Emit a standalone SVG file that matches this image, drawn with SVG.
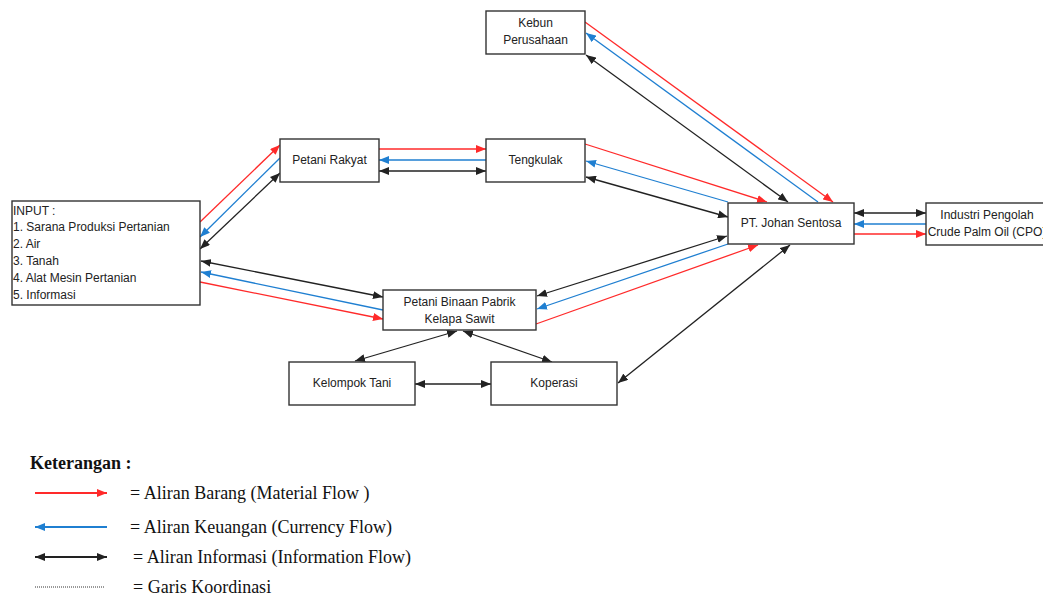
<svg xmlns="http://www.w3.org/2000/svg" width="1043" height="598" viewBox="0 0 1043 598">
<style>
.box{fill:#fff;stroke:#333;stroke-width:1.4}
.t{font-family:"Liberation Sans",Arial,sans-serif;font-size:12px;fill:#222}
.c{text-anchor:middle}
.r{stroke:#ff2a2a;stroke-width:1.3;fill:none;marker-end:url(#mr)}
.b{stroke:#1f7fd1;stroke-width:1.3;fill:none;marker-end:url(#mb)}
.k{stroke:#222;stroke-width:1.3;fill:none;marker-start:url(#mk);marker-end:url(#mk)}
.lg{font-family:"Liberation Serif","Times New Roman",serif;font-size:18px;fill:#111}
</style>
<defs>
<marker id="mr" viewBox="0 0 10 8" refX="10" refY="4" markerWidth="10" markerHeight="8" markerUnits="userSpaceOnUse" orient="auto-start-reverse"><path d="M0,0 L10,4 L0,8 z" fill="#ff2a2a"/></marker>
<marker id="mb" viewBox="0 0 10 8" refX="10" refY="4" markerWidth="10" markerHeight="8" markerUnits="userSpaceOnUse" orient="auto-start-reverse"><path d="M0,0 L10,4 L0,8 z" fill="#1f7fd1"/></marker>
<marker id="mk" viewBox="0 0 10 8" refX="10" refY="4" markerWidth="10" markerHeight="8" markerUnits="userSpaceOnUse" orient="auto-start-reverse"><path d="M0,0 L10,4 L0,8 z" fill="#222"/></marker>
</defs>
<rect width="1043" height="598" fill="#fff"/>
<g id="connectors">
<path class="r" d="M200,222 L280,145"/>
<path class="r" d="M379,149 L486,149"/>
<path class="r" d="M585,144 L767,202"/>
<path class="r" d="M585,22 L833,202"/>
<path class="r" d="M200,282 L383,319"/>
<path class="r" d="M536,324 L758,245"/>
<path class="r" d="M854,234 L926,234"/>
<path class="b" d="M280,158 L200,237"/>
<path class="b" d="M486,160 L379,160"/>
<path class="b" d="M728,202 L586,161"/>
<path class="b" d="M818,202 L586,33"/>
<path class="b" d="M383,310 L201,272"/>
<path class="b" d="M728,244 L537,309"/>
<path class="b" d="M926,224 L854,224"/>
<path class="k" d="M200,249 L280,173"/>
<path class="k" d="M379,171 L486,171"/>
<path class="k" d="M586,177 L728,217"/>
<path class="k" d="M586,55 L788,202"/>
<path class="k" d="M201,261 L383,297"/>
<path class="k" d="M537,296 L727,236"/>
<path class="k" d="M790,245 L618,383"/>
<path class="k" d="M457,331 L355,361"/>
<path class="k" d="M463,331 L552,362"/>
<path class="k" d="M415,384 L491,384"/>
<path class="k" d="M854,213 L926,213"/>
</g>
<g id="kebun"><rect class="box" x="486" y="11" width="99" height="43"/><text class="t c" x="535.5" y="27">Kebun</text><text class="t c" x="535.5" y="44">Perusahaan</text></g>
<g id="tengkulak"><rect class="box" x="486" y="139" width="99" height="43"/><text class="t c" x="535.5" y="164">Tengkulak</text></g>
<g id="petani-rakyat"><rect class="box" x="280" y="139" width="99" height="43"/><text class="t c" x="329.5" y="164">Petani Rakyat</text></g>
<g id="input"><rect class="box" x="12" y="201" width="188" height="104"/>
<text class="t" x="13" y="215">INPUT :</text>
<text class="t" x="13" y="231">1. Sarana Produksi Pertanian</text>
<text class="t" x="13" y="248">2. Air</text>
<text class="t" x="13" y="265">3. Tanah</text>
<text class="t" x="13" y="282">4. Alat Mesin Pertanian</text>
<text class="t" x="13" y="299">5. Informasi</text></g>
<g id="pt-johan"><rect class="box" x="728" y="203" width="126" height="41"/><text class="t c" x="791" y="227">PT. Johan Sentosa</text></g>
<g id="industri"><rect class="box" x="926" y="203" width="130" height="42"/><text class="t c" x="987" y="219">Industri Pengolah</text><text class="t c" x="987" y="236">Crude Palm Oil (CPO)</text></g>
<g id="petani-binaan"><rect class="box" x="383" y="290" width="153" height="40"/><text class="t c" x="459.5" y="306">Petani Binaan Pabrik</text><text class="t c" x="459.5" y="323">Kelapa Sawit</text></g>
<g id="kelompok-tani"><rect class="box" x="289" y="362" width="126" height="43"/><text class="t c" x="352" y="387">Kelompok Tani</text></g>
<g id="koperasi"><rect class="box" x="491" y="362" width="126" height="43"/><text class="t c" x="554" y="387">Koperasi</text></g>
<g id="legend">
<text class="lg" x="30" y="469" font-weight="bold">Keterangan :</text>
<path d="M35,493 L107,493" stroke="#ff2a2a" stroke-width="2" marker-end="url(#mr)"/>
<text class="lg" x="130" y="499">= Aliran Barang (Material Flow )</text>
<path d="M107,527 L35,527" stroke="#1f7fd1" stroke-width="2" marker-end="url(#mb)"/>
<text class="lg" x="130" y="533">= Aliran Keuangan (Currency Flow)</text>
<path d="M35,557 L107,557" stroke="#222" stroke-width="2" marker-start="url(#mk)" marker-end="url(#mk)"/>
<text class="lg" x="133" y="563">= Aliran Informasi (Information Flow)</text>
<path d="M35,587 L105,587" stroke="#333" stroke-width="1" stroke-dasharray="1,1"/>
<text class="lg" x="133" y="593">= Garis Koordinasi</text>
</g>
</svg>
